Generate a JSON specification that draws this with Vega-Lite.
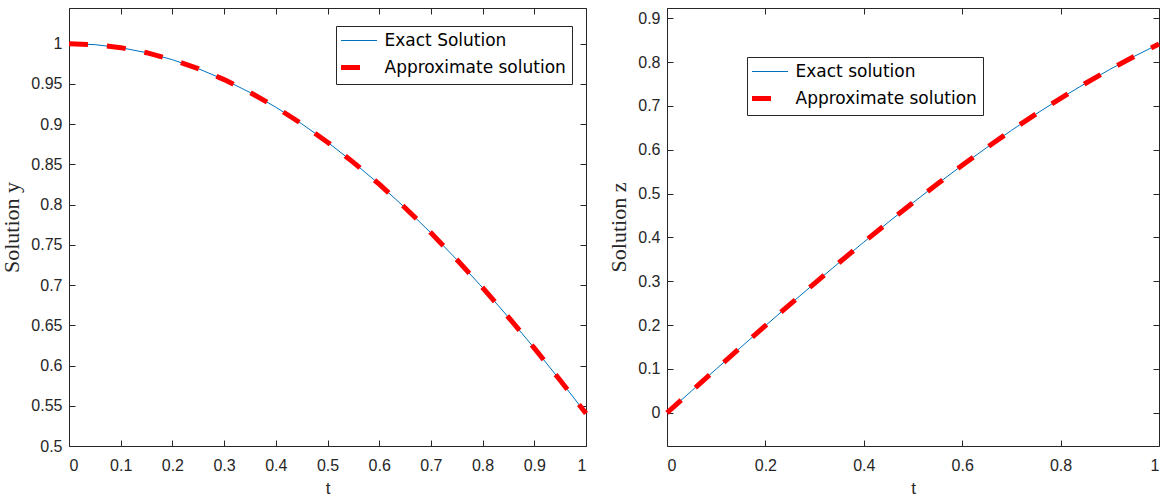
{
  "$schema": "https://vega.github.io/schema/vega-lite/v6.json",
  "background": "white",
  "padding": {"left": 0, "top": 7, "right": 8, "bottom": 0},
  "config": {
    "view": {"stroke": null},
    "axis": {
      "grid": false,
      "domainColor": "#262626",
      "tickColor": "#262626",
      "labelColor": "#262626",
      "titleColor": "#262626",
      "labelFont": "Liberation Sans",
      "labelFontSize": 16,
      "tickSize": -6,
      "domainWidth": 1,
      "tickWidth": 1,
      "titleFontWeight": "normal"
    },
    "axisX": {"labelPadding": 17, "titleFont": "Liberation Sans", "titleFontSize": 17, "titlePadding": 7},
    "axisY": {"labelPadding": 13, "titleFont": "Liberation Serif", "titleFontSize": 22, "titlePadding": 7},
    "legend": {
      "orient": "none",
      "title": null,
      "symbolType": "stroke",
      "symbolSize": 1296,
      "symbolOffset": 8.5,
      "labelFont": "DejaVu Sans",
      "labelFontSize": 17,
      "labelLimit": 400,
      "labelColor": "black",
      "fillColor": "white",
      "strokeColor": "#262626",
      "padding": 6,
      "rowPadding": 8,
      "labelOffset": 17
    }
  },
  "datasets": {
    "pts": [
      {"t": 0, "y": 1, "z": 0},
      {"t": 0.05, "y": 0.99875, "z": 0.049979},
      {"t": 0.1, "y": 0.995004, "z": 0.099833},
      {"t": 0.15, "y": 0.988771, "z": 0.149438},
      {"t": 0.2, "y": 0.980067, "z": 0.198669},
      {"t": 0.25, "y": 0.968912, "z": 0.247404},
      {"t": 0.3, "y": 0.955336, "z": 0.29552},
      {"t": 0.35, "y": 0.939373, "z": 0.342898},
      {"t": 0.4, "y": 0.921061, "z": 0.389418},
      {"t": 0.45, "y": 0.900447, "z": 0.434966},
      {"t": 0.5, "y": 0.877583, "z": 0.479426},
      {"t": 0.55, "y": 0.852525, "z": 0.522687},
      {"t": 0.6, "y": 0.825336, "z": 0.564642},
      {"t": 0.65, "y": 0.796084, "z": 0.605186},
      {"t": 0.7, "y": 0.764842, "z": 0.644218},
      {"t": 0.75, "y": 0.731689, "z": 0.681639},
      {"t": 0.8, "y": 0.696707, "z": 0.717356},
      {"t": 0.85, "y": 0.659983, "z": 0.75128},
      {"t": 0.9, "y": 0.62161, "z": 0.783327},
      {"t": 0.95, "y": 0.581683, "z": 0.813416},
      {"t": 1, "y": 0.540302, "z": 0.841471}
    ]
  },
  "spacing": 81,
  "bounds": "flush",
  "resolve": {"scale": {"color": "independent"}, "legend": {"color": "independent"}},
  "hconcat": [
    {
      "width": 517,
      "height": 438,
      "data": {"name": "pts"},
      "resolve": {"scale": {"x": "independent", "y": "independent"}, "axis": {"x": "independent", "y": "independent"}},
      "layer": [
        {
          "mark": {"type": "line", "strokeWidth": 1, "strokeCap": "butt"},
          "encoding": {
            "x": {"field": "t", "type": "quantitative", "scale": {"domain": [0, 1], "nice": false, "zero": false},
                  "axis": {"orient": "bottom", "title": "t", "values": [0, 0.1, 0.2, 0.3, 0.4, 0.5, 0.6, 0.7, 0.8, 0.9, 1], "format": "~g"}},
            "y": {"field": "y", "type": "quantitative", "scale": {"domain": [0.5, 1.0443], "nice": false, "zero": false},
                  "axis": {"orient": "left", "title": "Solution y", "values": [0.5, 0.55, 0.6, 0.65, 0.7, 0.75, 0.8, 0.85, 0.9, 0.95, 1], "format": "~g"}},
            "color": {"datum": "Exact Solution", "type": "nominal",
                      "scale": {"domain": ["Exact Solution", "Approximate solution"], "range": ["#0072BD", "#FF0000"]},
                      "legend": {"legendX": 267, "legendY": 18, "symbolSize": 1296, "symbolOffset": 8.5, "labelOffset": 17,
                                 "encode": {"symbols": {"update": {
                                   "strokeWidth": {"signal": "datum.value === 'Exact Solution' ? 1 : 5"},
                                   "strokeDash": {"signal": "datum.value === 'Exact Solution' ? [1, 0] : [19, 19]"}}}}}}
          }
        },
        {
          "mark": {"type": "line", "strokeWidth": 5, "strokeDash": [19, 19], "strokeCap": "butt"},
          "encoding": {
            "x": {"field": "t", "type": "quantitative", "scale": {"domain": [0, 1], "nice": false, "zero": false},
                  "axis": {"orient": "top", "title": null, "labels": false, "values": [0, 0.1, 0.2, 0.3, 0.4, 0.5, 0.6, 0.7, 0.8, 0.9, 1]}},
            "y": {"field": "y", "type": "quantitative", "scale": {"domain": [0.5, 1.0443], "nice": false, "zero": false},
                  "axis": {"orient": "right", "title": null, "labels": false, "values": [0.5, 0.55, 0.6, 0.65, 0.7, 0.75, 0.8, 0.85, 0.9, 0.95, 1]}},
            "color": {"datum": "Approximate solution", "type": "nominal"}
          }
        }
      ]
    },
    {
      "width": 492,
      "height": 438,
      "data": {"name": "pts"},
      "resolve": {"scale": {"x": "independent", "y": "independent"}, "axis": {"x": "independent", "y": "independent"}},
      "layer": [
        {
          "mark": {"type": "line", "strokeWidth": 1, "strokeCap": "butt"},
          "encoding": {
            "x": {"field": "t", "type": "quantitative", "scale": {"domain": [0, 1], "nice": false, "zero": false},
                  "axis": {"orient": "bottom", "title": "t", "values": [0, 0.2, 0.4, 0.6, 0.8, 1], "format": "~g"}},
            "y": {"field": "z", "type": "quantitative", "scale": {"domain": [-0.0757, 0.9235], "nice": false, "zero": false},
                  "axis": {"orient": "left", "title": "Solution z", "values": [0, 0.1, 0.2, 0.3, 0.4, 0.5, 0.6, 0.7, 0.8, 0.9], "format": "~g"}},
            "color": {"datum": "Exact solution", "type": "nominal",
                      "scale": {"domain": ["Exact solution", "Approximate solution"], "range": ["#0072BD", "#FF0000"]},
                      "legend": {"legendX": 80, "legendY": 49, "symbolSize": 1296, "symbolOffset": 8.5, "labelOffset": 17,
                                 "encode": {"symbols": {"update": {
                                   "strokeWidth": {"signal": "datum.value === 'Exact solution' ? 1 : 5"},
                                   "strokeDash": {"signal": "datum.value === 'Exact solution' ? [1, 0] : [19, 19]"}}}}}}
          }
        },
        {
          "mark": {"type": "line", "strokeWidth": 5, "strokeDash": [19, 19], "strokeCap": "butt"},
          "encoding": {
            "x": {"field": "t", "type": "quantitative", "scale": {"domain": [0, 1], "nice": false, "zero": false},
                  "axis": {"orient": "top", "title": null, "labels": false, "values": [0, 0.2, 0.4, 0.6, 0.8, 1]}},
            "y": {"field": "z", "type": "quantitative", "scale": {"domain": [-0.0757, 0.9235], "nice": false, "zero": false},
                  "axis": {"orient": "right", "title": null, "labels": false, "values": [0, 0.1, 0.2, 0.3, 0.4, 0.5, 0.6, 0.7, 0.8, 0.9]}},
            "color": {"datum": "Approximate solution", "type": "nominal"}
          }
        }
      ]
    }
  ]
}
